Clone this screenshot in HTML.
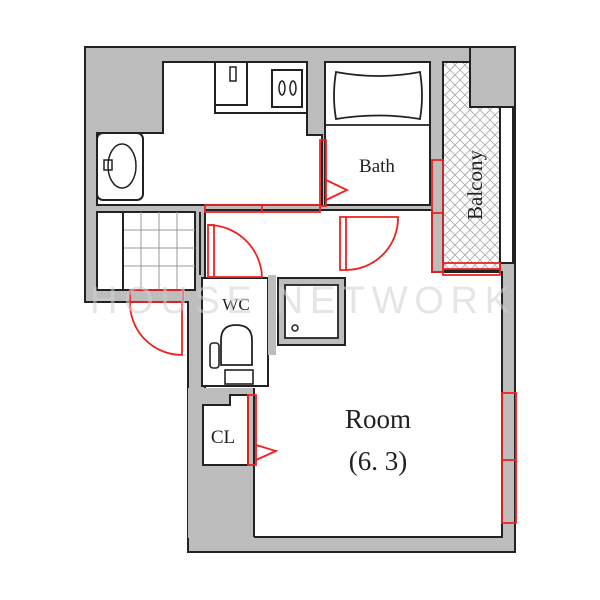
<!DOCTYPE html>
<html><head><style>body{margin:0;background:#fff}svg{display:block}</style></head><body>
<svg width="600" height="600" viewBox="0 0 600 600" xmlns="http://www.w3.org/2000/svg" font-family="Liberation Serif, serif">
<defs>
<pattern id="x" width="10" height="10" patternUnits="userSpaceOnUse"><rect width="10" height="10" fill="#fff"/><path d="M0 0L10 10M10 0L0 10" stroke="#aaa" stroke-width="0.8"/></pattern>
</defs>
<path d="M85 47H515V552H188V302H85Z" fill="#bdbdbd" stroke="#222" stroke-width="2"/>
<path d="M163 62H307V135H322V205H97V133H163Z" fill="#fff" stroke="#222" stroke-width="2"/>
<rect x="97" y="133" width="46" height="67" rx="6" fill="#fff" stroke="#222" stroke-width="2"/>
<ellipse cx="122" cy="166" rx="14" ry="22" fill="none" stroke="#222" stroke-width="1.5"/>
<rect x="104" y="160" width="8" height="10" fill="none" stroke="#222" stroke-width="1.5"/>
<rect x="215" y="62" width="92" height="51" fill="#fff" stroke="#222" stroke-width="2"/>
<rect x="215" y="62" width="32" height="43" fill="none" stroke="#222" stroke-width="2"/>
<rect x="230" y="67" width="6" height="14" fill="none" stroke="#222" stroke-width="1.5"/>
<rect x="272" y="70" width="30" height="37" fill="none" stroke="#222" stroke-width="2"/>
<ellipse cx="282" cy="88" rx="3" ry="7" fill="none" stroke="#222" stroke-width="1.5"/>
<ellipse cx="293" cy="88" rx="3" ry="7" fill="none" stroke="#222" stroke-width="1.5"/>
<rect x="325" y="62" width="105" height="143" fill="#fff" stroke="#222" stroke-width="2"/>
<path d="M336 72Q378 80 420 72Q424 96 420 119Q378 112 336 119Q332 96 336 72Z" fill="none" stroke="#222" stroke-width="1.8"/>
<line x1="326" y1="125" x2="429" y2="125" stroke="#222" stroke-width="1.8"/>
<text x="377" y="172" font-size="19" text-anchor="middle" fill="#222">Bath</text>
<rect x="443" y="62" width="57" height="208" fill="url(#x)" stroke="#222" stroke-width="2"/>
<rect x="471" y="48" width="43" height="58" fill="#bdbdbd"/>
<path d="M470 48V107H513" fill="none" stroke="#222" stroke-width="2"/>
<rect x="500" y="107" width="13" height="156" fill="#fff" stroke="#222" stroke-width="2"/>
<text transform="translate(482 185) rotate(-90)" font-size="21" text-anchor="middle" fill="#222">Balcony</text>
<path d="M205 210H432V272H502V537H254V395H205Z" fill="#fff" stroke="#222" stroke-width="2"/>
<rect x="188" y="388" width="66" height="150" fill="#bdbdbd"/>
<line x1="254" y1="388" x2="254" y2="537" stroke="#222" stroke-width="2"/>
<rect x="97" y="212" width="98" height="78" fill="#fff" stroke="#222" stroke-width="2"/>
<g stroke="#999" stroke-width="1"><path d="M141 212V290M159 212V290M177 212V290M123 230H195M123 248H195M123 266H195"/></g>
<line x1="123" y1="212" x2="123" y2="290" stroke="#222" stroke-width="2"/>
<line x1="200" y1="212" x2="200" y2="275" stroke="#222" stroke-width="2"/>
<rect x="202" y="278" width="66" height="108" fill="#fff" stroke="#222" stroke-width="2"/>
<rect x="268" y="275" width="8" height="80" fill="#bdbdbd"/>
<text x="236" y="310" font-size="17" text-anchor="middle" fill="#222">WC</text>
<path d="M221 365V340Q221 325 236 325Q252 325 252 340V365Z" fill="none" stroke="#222" stroke-width="1.8"/>
<rect x="210" y="343" width="9" height="25" rx="3" fill="none" stroke="#222" stroke-width="1.6"/>
<rect x="225" y="370" width="28" height="14" fill="none" stroke="#222" stroke-width="1.6"/>
<rect x="278" y="278" width="67" height="67" fill="#bdbdbd" stroke="#222" stroke-width="2"/>
<rect x="285" y="285" width="53" height="53" fill="#fff" stroke="#222" stroke-width="1.8"/>
<circle cx="295" cy="328" r="3" fill="none" stroke="#222" stroke-width="1.5"/>
<path d="M203 405H230V395H248V465H203Z" fill="#fff" stroke="#222" stroke-width="2"/>
<text x="223" y="443" font-size="19" text-anchor="middle" fill="#222">CL</text>
<text x="378" y="428" font-size="27" text-anchor="middle" fill="#222">Room</text>
<text x="378" y="470" font-size="27" text-anchor="middle" fill="#222">(6. 3)</text>
<g fill="none" stroke="#e22" stroke-width="1.8">
<rect x="320" y="140" width="6" height="66"/>
<path d="M326 180L347 190L326 200"/>
<rect x="205" y="205" width="115" height="7"/><line x1="262" y1="205" x2="262" y2="212"/>
<rect x="208" y="225" width="6" height="52"/><path d="M208 277H262A54 54 0 0 0 208 225"/>
<rect x="340" y="217" width="6" height="53"/><path d="M346 217H398A52 52 0 0 1 346 270"/>
<rect x="432" y="160" width="11" height="112"/><line x1="432" y1="213" x2="443" y2="213"/>
<rect x="443" y="263" width="57" height="12"/><line x1="443" y1="269" x2="500" y2="269"/>
<rect x="130" y="290" width="53" height="12"/><path d="M130 302A52 52 0 0 0 182 355V302"/>
<rect x="248" y="395" width="8" height="70"/><path d="M256 445L276 451L256 460"/>
<rect x="502" y="393" width="14" height="130"/><line x1="502" y1="460" x2="516" y2="460"/>
</g>
<text x="300" y="313" font-size="38" font-family="Liberation Sans, sans-serif" text-anchor="middle" fill="#d0d0d0" opacity="0.55" textLength="420">HOUSE NETWORK</text>
</svg>
</body></html>
